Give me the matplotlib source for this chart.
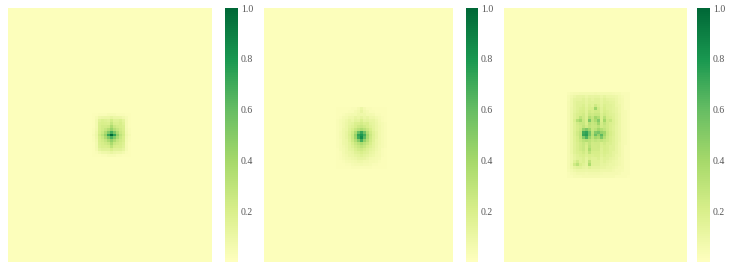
import numpy as np
import matplotlib
matplotlib.use('Agg')
import matplotlib.pyplot as plt
from matplotlib.colors import ListedColormap

W, H = 736, 268
CELL = 3.0
BACKGROUND = 1.5

# percent values, only the part around each hot spot
patch_a = [
    [2, 2, 3, 3, 3, 4, 4, 4, 3, 3, 3, 2, 2],
    [2, 4, 8, 9, 10, 10, 12, 10, 10, 9, 7, 4, 2],
    [2, 6, 15, 18, 17, 15, 22, 16, 16, 18, 14, 5, 2],
    [2, 6, 18, 20, 19, 18, 28, 19, 18, 21, 16, 5, 2],
    [2, 6, 19, 22, 22, 24, 36, 25, 22, 21, 18, 5, 2],
    [3, 7, 20, 23, 28, 34, 44, 34, 28, 23, 19, 6, 3],
    [3, 8, 21, 26, 36, 50, 68, 52, 36, 25, 21, 7, 3],
    [4, 9, 24, 32, 44, 72, 99, 74, 46, 30, 22, 8, 4],
    [3, 8, 21, 26, 36, 50, 66, 50, 36, 26, 20, 7, 3],
    [3, 7, 20, 23, 28, 36, 46, 36, 28, 23, 19, 6, 3],
    [2, 6, 18, 21, 23, 26, 38, 26, 23, 21, 17, 5, 2],
    [2, 6, 17, 19, 19, 21, 30, 21, 19, 19, 15, 5, 2],
    [2, 5, 13, 15, 15, 15, 20, 15, 15, 15, 12, 5, 2],
    [2, 3, 6, 8, 8, 9, 11, 9, 8, 8, 6, 3, 2],
    [2, 2, 2, 3, 3, 4, 4, 4, 3, 3, 2, 2, 2],
]
patch_b = [
    [2, 2, 2, 2, 2, 3, 3, 5, 9, 5, 3, 3, 2, 2, 2, 2, 2],
    [2, 2, 2, 2, 3, 3, 5, 7, 11, 7, 5, 3, 3, 2, 2, 2, 2],
    [2, 2, 3, 4, 5, 6, 6, 8, 8, 8, 6, 6, 5, 3, 3, 2, 2],
    [2, 3, 5, 6, 8, 8, 11, 10, 13, 10, 11, 8, 8, 6, 4, 3, 2],
    [3, 4, 6, 8, 11, 10, 14, 13, 18, 13, 14, 11, 11, 8, 5, 3, 2],
    [3, 4, 7, 9, 12, 14, 18, 19, 22, 18, 19, 14, 12, 9, 6, 4, 3],
    [3, 4, 7, 10, 14, 16, 20, 24, 26, 23, 20, 16, 13, 10, 7, 4, 3],
    [3, 4, 8, 10, 15, 20, 26, 32, 36, 32, 25, 20, 14, 10, 7, 4, 3],
    [3, 5, 8, 11, 17, 24, 36, 58, 72, 56, 34, 23, 16, 11, 7, 4, 3],
    [3, 5, 8, 11, 18, 26, 44, 74, 80, 68, 40, 25, 17, 11, 7, 4, 3],
    [3, 5, 8, 11, 17, 25, 42, 70, 84, 62, 38, 24, 16, 11, 7, 4, 3],
    [3, 4, 8, 10, 16, 24, 34, 48, 68, 46, 33, 22, 15, 10, 7, 4, 3],
    [3, 4, 8, 10, 14, 20, 26, 32, 38, 32, 26, 20, 14, 10, 7, 4, 3],
    [3, 4, 7, 9, 13, 17, 22, 26, 30, 26, 21, 17, 13, 9, 6, 4, 3],
    [2, 4, 6, 8, 12, 14, 18, 22, 24, 21, 17, 14, 11, 8, 6, 3, 2],
    [2, 3, 6, 8, 10, 11, 15, 17, 20, 17, 15, 11, 10, 7, 5, 3, 2],
    [2, 3, 5, 7, 9, 10, 12, 14, 16, 14, 12, 10, 8, 6, 5, 3, 2],
    [2, 3, 4, 6, 7, 8, 9, 11, 12, 11, 9, 7, 6, 5, 4, 2, 2],
    [2, 2, 3, 4, 5, 6, 7, 8, 8, 7, 7, 5, 5, 4, 3, 2, 2],
    [2, 2, 2, 3, 3, 4, 5, 5, 6, 5, 5, 4, 3, 3, 2, 2, 2],
    [2, 2, 2, 2, 2, 3, 3, 3, 3, 3, 3, 3, 2, 2, 2, 2, 2],
]
patch_c = [
    [3, 4, 5, 5, 6, 6, 6, 6, 6, 7, 6, 6, 6, 6, 6, 5, 4, 4, 3, 3, 3],
    [4, 7, 9, 11, 11, 12, 10, 12, 11, 12, 12, 10, 12, 10, 10, 9, 8, 6, 4, 3, 3],
    [4, 8, 12, 13, 13, 15, 12, 15, 13, 15, 15, 12, 15, 13, 12, 11, 9, 7, 5, 3, 3],
    [5, 8, 13, 15, 15, 16, 13, 16, 15, 16, 16, 13, 16, 15, 14, 13, 10, 7, 5, 3, 3],
    [5, 8, 13, 16, 16, 18, 14, 18, 16, 24, 18, 14, 18, 16, 15, 14, 10, 8, 5, 3, 3],
    [5, 9, 13, 16, 18, 20, 15, 20, 20, 42, 22, 15, 20, 16, 15, 14, 11, 8, 5, 3, 3],
    [5, 9, 14, 17, 20, 21, 16, 23, 21, 23, 23, 16, 21, 18, 16, 14, 11, 8, 5, 4, 3],
    [5, 10, 15, 19, 21, 23, 17, 26, 24, 26, 26, 18, 23, 19, 17, 15, 12, 9, 5, 4, 3],
    [5, 10, 15, 20, 30, 24, 18, 34, 28, 40, 35, 19, 32, 21, 19, 16, 12, 9, 5, 4, 3],
    [5, 10, 18, 33, 40, 26, 20, 52, 29, 37, 50, 20, 40, 23, 26, 17, 13, 9, 5, 4, 3],
    [5, 10, 16, 22, 26, 27, 20, 32, 27, 29, 42, 22, 29, 23, 19, 17, 13, 9, 5, 4, 3],
    [5, 10, 16, 21, 24, 29, 23, 29, 26, 27, 32, 23, 26, 23, 19, 16, 12, 9, 5, 4, 3],
    [5, 10, 16, 21, 26, 45, 52, 42, 27, 32, 40, 34, 29, 24, 19, 16, 12, 9, 5, 4, 3],
    [5, 10, 17, 23, 29, 70, 74, 56, 32, 50, 54, 45, 42, 26, 21, 17, 12, 9, 5, 4, 3],
    [5, 10, 17, 23, 30, 72, 76, 55, 34, 58, 44, 62, 40, 26, 21, 17, 12, 9, 5, 4, 3],
    [5, 10, 16, 21, 29, 50, 66, 43, 30, 40, 36, 52, 34, 24, 19, 16, 12, 9, 5, 4, 3],
    [5, 10, 16, 21, 26, 32, 34, 32, 26, 29, 27, 29, 26, 23, 19, 16, 12, 9, 5, 4, 3],
    [5, 10, 15, 19, 23, 27, 22, 29, 23, 24, 24, 20, 23, 19, 18, 15, 12, 8, 5, 4, 3],
    [5, 10, 15, 19, 23, 26, 20, 32, 23, 23, 24, 18, 21, 19, 16, 15, 11, 8, 5, 3, 3],
    [5, 10, 15, 19, 23, 26, 20, 37, 23, 23, 23, 17, 21, 19, 16, 15, 11, 8, 5, 3, 3],
    [5, 10, 15, 18, 20, 23, 18, 29, 21, 21, 21, 17, 20, 18, 16, 13, 11, 8, 5, 3, 3],
    [5, 8, 13, 16, 18, 20, 17, 20, 18, 20, 20, 15, 18, 16, 15, 13, 10, 8, 5, 3, 3],
    [5, 8, 12, 15, 16, 18, 14, 18, 16, 16, 18, 14, 16, 15, 13, 11, 10, 7, 5, 3, 3],
    [5, 8, 16, 23, 16, 18, 14, 29, 16, 16, 16, 13, 15, 13, 11, 10, 8, 7, 5, 3, 3],
    [5, 10, 23, 32, 20, 16, 13, 37, 16, 15, 15, 12, 13, 11, 10, 10, 8, 7, 5, 3, 3],
    [5, 8, 13, 15, 15, 13, 11, 16, 13, 13, 13, 11, 11, 10, 10, 8, 7, 5, 5, 3, 3],
    [4, 6, 8, 10, 10, 10, 9, 10, 10, 10, 10, 8, 8, 8, 8, 7, 5, 5, 4, 3, 3],
    [3, 4, 5, 7, 7, 7, 6, 7, 7, 7, 7, 6, 5, 5, 5, 5, 5, 4, 3, 3, 3],
    [3, 3, 4, 4, 4, 5, 5, 5, 5, 5, 5, 4, 4, 4, 4, 4, 3, 3, 3, 3, 2],
]
tick_values = [0.2, 0.4, 0.6, 0.8, 1.0]

plt.rcParams['font.family'] = ['Liberation Serif', 'DejaVu Serif']

# only the upper half of RdYlGn is used
half = plt.get_cmap('RdYlGn')(np.linspace(0.5, 1, 256))
cmap = ListedColormap(half)


def px_axes(fig, x0, x1, y0, y1):
    return fig.add_axes([x0 / W, 1 - y1 / H, (x1 - x0) / W, (y1 - y0) / H])


def draw_panel(fig, patch, box, cbar_box, patch_left, patch_top):
    x0, x1, y0, y1 = box
    ncols = int(round((x1 - x0) / CELL))
    nrows = int(round((y1 - y0) / CELL))
    grid = np.full((nrows, ncols), BACKGROUND)
    patch = np.array(patch, dtype=float)
    r = int(round((patch_top - y0) / CELL))
    c = int(round((patch_left - x0) / CELL))
    grid[r:r + patch.shape[0], c:c + patch.shape[1]] = patch
    ax = px_axes(fig, x0, x1, y0, y1)
    im = ax.imshow(grid / 100, cmap=cmap, vmin=0, vmax=1, aspect='auto',
                   interpolation='nearest')
    ax.axis('off')
    cax = px_axes(fig, cbar_box[0], cbar_box[1], y0, y1)
    cb = fig.colorbar(im, cax=cax)
    cb.set_ticks(tick_values)
    cb.ax.tick_params(length=0, labelsize=7, labelcolor='#555555', pad=2)
    cb.outline.set_visible(False)


fig = plt.figure(figsize=(W / 100, H / 100), dpi=100)
draw_panel(fig, patch_a, (8, 212, 8, 262), (225, 238), 91, 114)
draw_panel(fig, patch_b, (264, 453, 8, 262), (466, 478), 335, 108)
draw_panel(fig, patch_c, (504, 686, 8, 262), (697, 710), 567, 93)
fig.savefig('out.png', dpi=100)
